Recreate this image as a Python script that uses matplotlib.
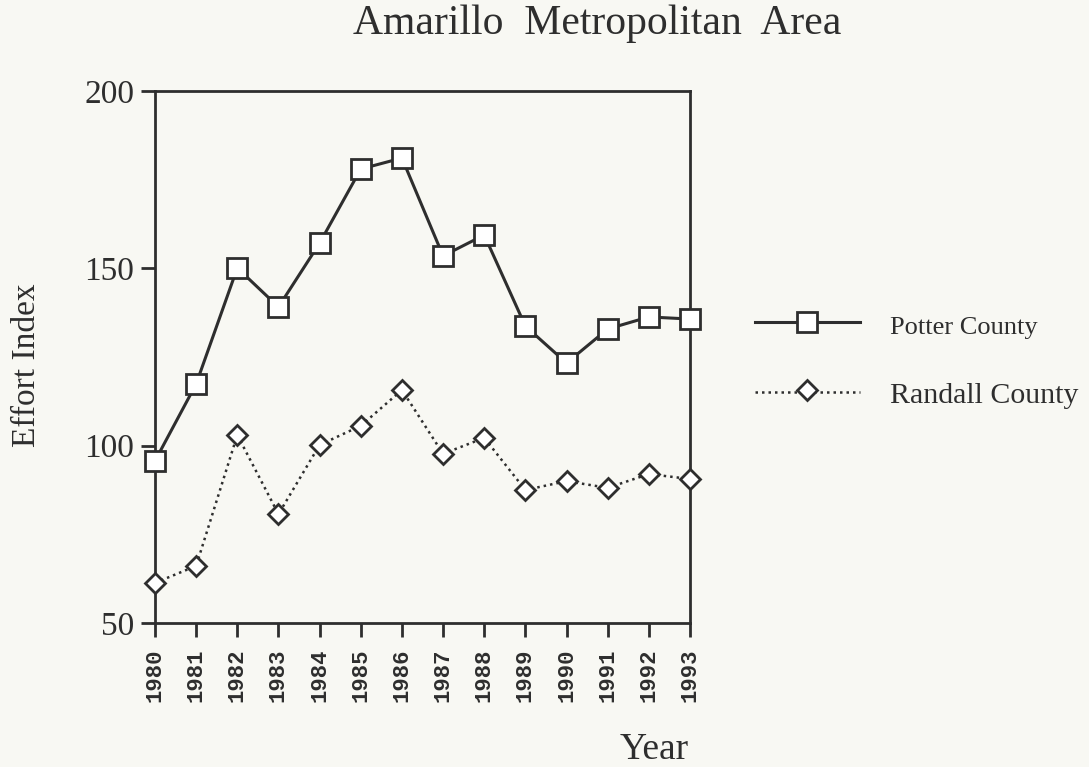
import matplotlib
matplotlib.use("Agg")
import matplotlib.pyplot as plt
from matplotlib.lines import Line2D

years = [1980, 1981, 1982, 1983, 1984, 1985, 1986, 1987, 1988, 1989, 1990, 1991, 1992, 1993]
potter = [95.7, 117.4, 150.1, 139.1, 157.1, 178.0, 181.1, 153.5, 159.4, 133.7, 123.3, 132.9, 136.3, 135.7]
randall = [61.3, 66.1, 103.0, 80.7, 100.2, 105.6, 115.7, 97.7, 102.2, 87.5, 90.0, 88.1, 92.0, 90.6]
yticks = [50, 100, 150, 200]

bg = '#f8f8f3'
ink = '#2e2e2e'
serif = ['Liberation Serif', 'DejaVu Serif']

fig = plt.figure(figsize=(10.89, 7.67), dpi=100, facecolor=bg)
ax = fig.add_axes([155/1089, 1-623/767, (690-155)/1089, (623-91)/767])
ax.set_facecolor(bg)

ax.plot(years, potter, color=ink, lw=2.2, marker='s', ms=14, mfc='white', mec=ink, mew=2.0, clip_on=False, zorder=3)
ax.plot(years, randall, color=ink, lw=1.8, ls=(0, (1, 1.6)), marker='D', ms=10, mfc='white', mec=ink, mew=2.0, clip_on=False, zorder=3)

ax.set_xlim(1980, 1993)
ax.set_ylim(50, 200)
ax.set_xticks(years)
ax.set_xticklabels([str(y) for y in years], rotation=90, family=['Liberation Mono', 'DejaVu Sans Mono'], fontsize=16, fontweight='bold')
ax.set_yticks(yticks)
ax.set_yticklabels([str(v) for v in yticks], family=serif, fontsize=24)
ax.tick_params(axis='both', direction='out', length=10, width=2, color=ink, labelcolor=ink)
ax.tick_params(axis='y', pad=5)
ax.tick_params(axis='x', pad=8)
for s in ax.spines.values():
    s.set_linewidth(2)
    s.set_color(ink)

fig.text(597/1089, 1-24/767, 'Amarillo  Metropolitan  Area', ha='center', va='center', family=serif, fontsize=30, color=ink)
fig.text(27/1089, 1-365/767, 'Effort Index', rotation=90, ha='center', va='center', family=serif, fontsize=24, color=ink)
fig.text(654/1089, 1-750/767, 'Year', ha='center', va='center', family=serif, fontsize=27, color=ink)

# legend
fx = lambda p: p/1089
fy = lambda p: 1-p/767
fig.add_artist(Line2D([fx(755), fx(860)], [fy(322), fy(322)], transform=fig.transFigure, color=ink, lw=2.2))
fig.add_artist(Line2D([fx(807)], [fy(322)], transform=fig.transFigure, marker='s', ms=14, mfc='white', mec=ink, mew=2.0, ls='none'))
fig.add_artist(Line2D([fx(755), fx(860)], [fy(392), fy(392)], transform=fig.transFigure, color=ink, lw=1.8, ls=(0, (1, 1.6))))
fig.add_artist(Line2D([fx(807)], [fy(390)], transform=fig.transFigure, marker='D', ms=10, mfc='white', mec=ink, mew=2.0, ls='none'))
fig.text(fx(890), fy(328), 'Potter County', ha='left', va='center', family=serif, fontsize=19, color=ink)
fig.text(fx(890), fy(396), 'Randall County', ha='left', va='center', family=serif, fontsize=21.5, color=ink)

fig.savefig('out.png', dpi=100, facecolor=bg)
